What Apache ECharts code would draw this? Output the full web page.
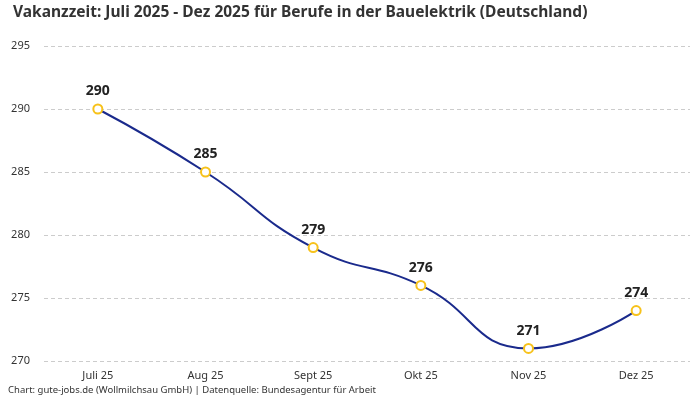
<!DOCTYPE html>
<html>
<head>
<meta charset="utf-8">
<script src="https://cdn.jsdelivr.net/npm/echarts@6/dist/echarts.min.js"></script>
<style>
  html, body { margin: 0; padding: 0; background: #fff; }
  #chart { width: 700px; height: 400px; }
</style>
</head>
<body>
<div id="chart"></div>
<script>
const months = ['Juli 25', 'Aug 25', 'Sept 25', 'Okt 25', 'Nov 25', 'Dez 25'];
const vacancyDays = [290, 285, 279, 276, 271, 274];

const chart = echarts.init(document.getElementById('chart'));
const option = {
    backgroundColor: '#fff',
    textStyle: { fontFamily: 'Noto Sans' },
    title: [
        {
            text: 'Vakanzzeit: Juli 2025 - Dez 2025 für Berufe in der Bauelektrik (Deutschland)',
            left: 8,
            top: 0,
            textStyle: { fontSize: 15.5, fontWeight: 'bold', color: '#333', fontFamily: 'Noto Sans' }
        },
        {
            text: 'Chart: gute-jobs.de (Wollmilchsau GmbH) | Datenquelle: Bundesagentur für Arbeit',
            left: 8,
            top: 385,
            padding: 0,
            textStyle: { fontSize: 9.5, fontWeight: 'normal', color: '#333', fontFamily: 'Noto Sans' }
        }
    ],
    grid: {
        left: 44,
        right: 10,
        top: 46,
        bottom: 39
    },
    xAxis: {
        type: 'category',
        data: months,
        boundaryGap: true,
        axisLine: { show: false },
        axisTick: { show: false },
        axisLabel: { color: '#333', fontSize: 11, margin: 9 }
    },
    yAxis: {
        type: 'value',
        min: 270,
        max: 295,
        interval: 5,
        axisLine: { show: false },
        axisTick: { show: false },
        axisLabel: { color: '#333', fontSize: 11, margin: 14 },
        splitLine: {
            show: true,
            lineStyle: { color: '#cccccc', type: [4, 3], width: 1 }
        }
    },
    series: [{
        type: 'line',
        data: vacancyDays,
        smooth: true,
        symbol: 'emptyCircle',
        symbolSize: 9,
        lineStyle: { color: '#1a2a8c', width: 2 },
        itemStyle: { color: '#f7c21b', borderColor: '#f7c21b', borderWidth: 2 },
        label: {
            show: true,
            position: 'top',
            distance: 5,
            color: '#222',
            fontSize: 14,
            fontWeight: 'bold'
        }
    }]
};
chart.setOption(option);
</script>
</body>
</html>
